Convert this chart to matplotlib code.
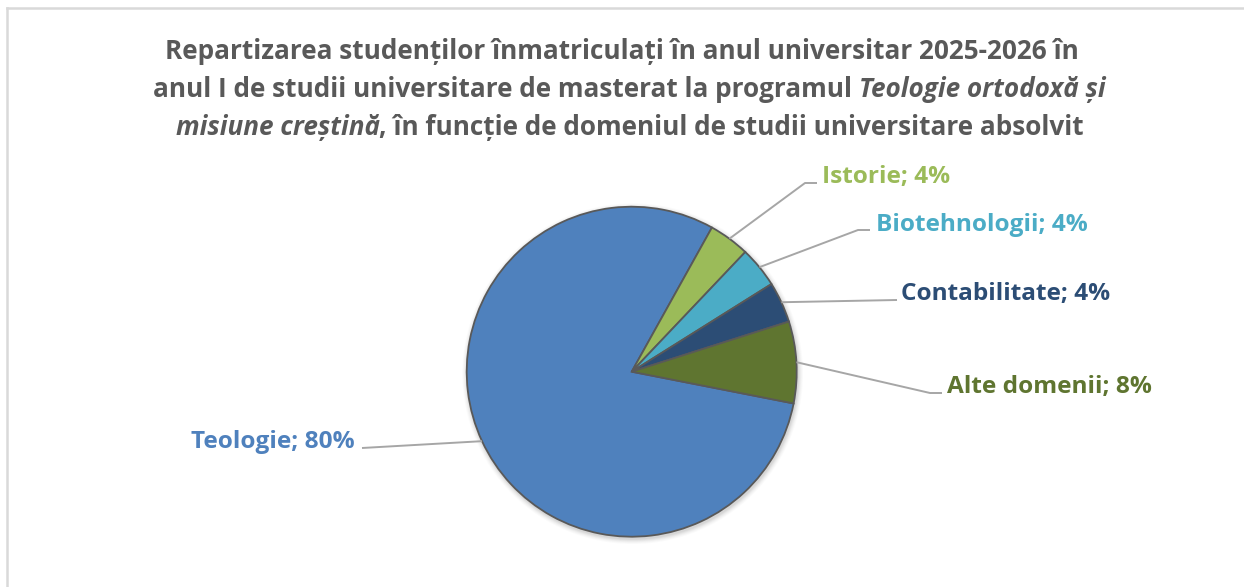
import numpy as np
import matplotlib
matplotlib.use("Agg")
import matplotlib.pyplot as plt
from matplotlib.lines import Line2D

categories = ["Teologie", "Istorie", "Biotehnologii", "Contabilitate", "Alte domenii"]
shares = [80, 4, 4, 4, 8]
colors = ["#4F81BD", "#9BBB59", "#4BACC6", "#2C4D75", "#5F7530"]

W, H = 1244, 587
FONT = "Open Sans"
GREY = "#595959"

fig = plt.figure(figsize=(W / 100, H / 100), dpi=100)
ax = fig.add_axes([0, 0, 1, 1])

cx, cy, R = 631.7, H - 371.7, 165

# soft shadow round the pie
for k, a in zip(range(6, 0, -1), [0.03, 0.04, 0.05, 0.06, 0.07, 0.08]):
    ax.add_patch(plt.Circle((cx + 1, cy - 2), R + k * 0.9, color="black", alpha=a * 0.5, lw=0))

wedges, _ = ax.pie(shares, colors=colors, startangle=-11.1, counterclock=False,
                   center=(cx, cy), radius=R,
                   wedgeprops=dict(edgecolor=GREY, linewidth=1.3))
ax.set_xlim(0, W)
ax.set_ylim(0, H)
ax.set_aspect("equal")
ax.axis("off")

# label layout (pixel coords from top): elbow, line end, text x, baseline, alignment
layout = {
    "Teologie": (None, (362, 448), 355, 448, "right"),
    "Istorie": ((805, 183), (817, 183), 822, 183, "left"),
    "Biotehnologii": ((858, 230), (870, 230), 876, 231, "left"),
    "Contabilitate": (None, (897, 300), 901, 300, "left"),
    "Alte domenii": ((930, 393), (942, 393), 947, 393, "left"),
}

for w, name, val, col in zip(wedges, categories, shares, colors):
    mid = np.deg2rad((w.theta1 + w.theta2) / 2)
    x0, y0 = cx + R * np.cos(mid), cy + R * np.sin(mid)
    elbow, end, tx, ty, ha = layout[name]
    xs, ys = [x0], [y0]
    if elbow:
        xs.append(elbow[0]); ys.append(H - elbow[1])
    xs.append(end[0]); ys.append(H - end[1])
    ax.plot(xs, ys, color="#A6A6A6", lw=1.4, solid_capstyle="butt", zorder=1)
    ax.text(tx, H - ty, f"{name}; {val}%", color=col, fontsize=17.6, fontweight="bold",
            family=FONT, ha=ha, va="baseline")

# title, mixed upright / italic
title_lines = [
    [("Repartizarea studenților înmatriculați în anul universitar 2025-2026 în", "normal")],
    [("anul I de studii universitare de masterat la programul ", "normal"),
     ("Teologie ortodoxă și", "italic")],
    [("misiune creștină", "italic"),
     (", în funcție de domeniul de studii universitare absolvit", "normal")],
]
baselines = [59, 97, 135]
centers = [622, 629, 630]
renderer = fig.canvas.get_renderer()
for parts, by, xc in zip(title_lines, baselines, centers):
    objs = []
    for txt, st in parts:
        t = fig.text(0, 1 - by / H, txt, fontsize=18.8, fontweight="bold", style=st,
                     family=FONT, color=GREY, ha="left", va="baseline")
        objs.append(t)
    widths = [t.get_window_extent(renderer).width for t in objs]
    # italic boxes run a little wide, pull following piece back
    widths = [wd - (1.5 if st == "italic" and i < len(parts) - 1 else 0)
              for i, (wd, (_, st)) in enumerate(zip(widths, parts))]
    x = xc - sum(widths) / 2
    for t, wd in zip(objs, widths):
        t.set_x(x / W)
        x += wd

# chart frame
fig.add_artist(Line2D([7.5 / W, 7.5 / W], [0, 1 - 7.5 / H], color="#D9D9D9", lw=1.8))
fig.add_artist(Line2D([7.5 / W, 1], [1 - 7.5 / H, 1 - 7.5 / H], color="#D9D9D9", lw=1.8))

fig.savefig("out.png", dpi=100, facecolor="white")
